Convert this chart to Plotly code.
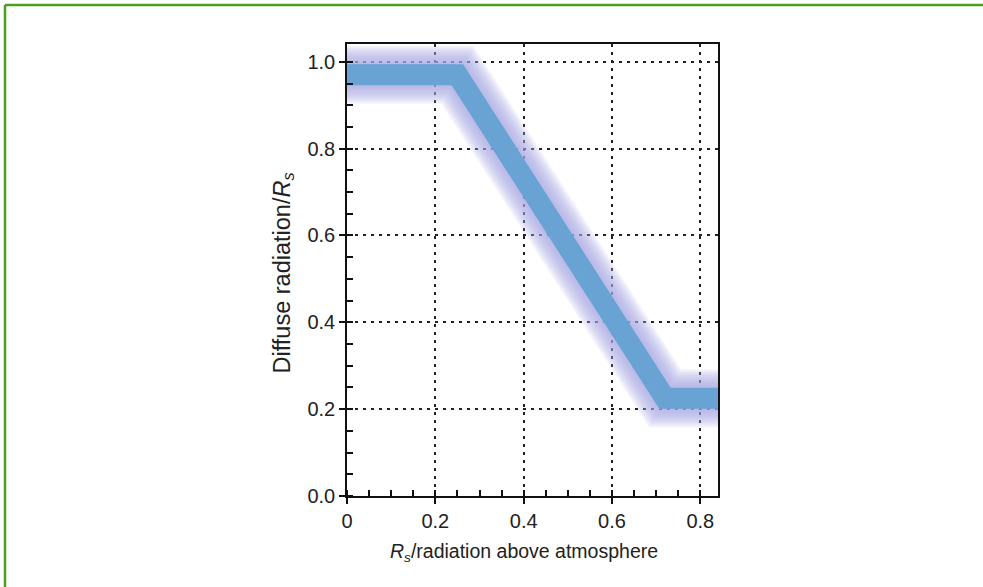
import plotly.graph_objects as go

# Data
ratio_x = [0.0, 0.25, 0.72, 0.86]          # Rs / radiation above atmosphere
diffuse_y = [0.97, 0.97, 0.225, 0.225]     # Diffuse radiation / Rs
x_tick_vals = [0, 0.2, 0.4, 0.6, 0.8]
x_tick_text = ["0", "0.2", "0.4", "0.6", "0.8"]
y_tick_vals = [0.0, 0.2, 0.4, 0.6, 0.8, 1.0]
y_tick_text = ["0.0", "0.2", "0.4", "0.6", "0.8", "1.0"]

W, H = 983, 587
L, R, T, B = 347, 265, 44, 91
pw, ph = W - L - R, H - T - B

FONT = "Liberation Sans, Arial, Helvetica, sans-serif"

fig = go.Figure()

# soft halo around the line (stacked translucent strokes)
for w in [58, 54, 50, 46, 42, 38, 34, 30, 26]:
    fig.add_trace(go.Scatter(x=ratio_x, y=diffuse_y, mode="lines",
                             line=dict(color="rgba(166,166,230,0.15)", width=w),
                             hoverinfo="skip", showlegend=False))
# core line
fig.add_trace(go.Scatter(x=ratio_x, y=diffuse_y, mode="lines",
                         line=dict(color="#68a3d3", width=21),
                         showlegend=False))

axis_common = dict(showline=True, linecolor="#111", linewidth=1.5, mirror=True,
                   ticks="outside", ticklen=6, tickwidth=1.5, tickcolor="#111",
                   showgrid=True, gridcolor="#222", gridwidth=1.5, griddash="3px,5px",
                   zeroline=False,
                   tickfont=dict(family=FONT, size=20, color="#222"),
                   minor=dict(dtick=0.05, ticks="inside", ticklen=6, tickwidth=1.5,
                              tickcolor="#111", showgrid=False))

fig.update_xaxes(range=[0, 0.84], tickvals=x_tick_vals, ticktext=x_tick_text,
                 **axis_common)
fig.update_yaxes(range=[0, 1.041], tickvals=y_tick_vals, ticktext=y_tick_text,
                 **axis_common)

# overlay axes to give major ticks their inside half
fig.update_layout(
    xaxis2=dict(overlaying="x", range=[0, 0.84], tickvals=x_tick_vals,
                ticks="inside", ticklen=6, tickwidth=1.5, tickcolor="#111",
                showticklabels=False, showgrid=False, zeroline=False, side="bottom"),
    yaxis2=dict(overlaying="y", range=[0, 1.041], tickvals=y_tick_vals,
                ticks="inside", ticklen=6, tickwidth=1.5, tickcolor="#111",
                showticklabels=False, showgrid=False, zeroline=False, side="left"),
)
fig.add_trace(go.Scatter(x=[None], y=[None], xaxis="x2", yaxis="y2",
                         showlegend=False, hoverinfo="skip"))

# axis titles
fig.add_annotation(xref="paper", yref="paper",
                   x=(523.5 - L) / pw, y=(H - B - 552) / ph,
                   xanchor="center", yanchor="middle", showarrow=False,
                   text="<i>R<sub>s</sub></i>/radiation above atmosphere",
                   font=dict(family=FONT, size=19.5, color="#222"))
fig.add_annotation(xref="paper", yref="paper",
                   x=(283 - L) / pw, y=(H - B - 273.5) / ph,
                   xanchor="center", yanchor="middle", showarrow=False,
                   textangle=-90,
                   text="Diffuse radiation/<i>R<sub>s</sub></i>",
                   font=dict(family=FONT, size=23.5, color="#222"))

# green frame (top and left edges)
gx = (5 - L) / pw
gy = (H - B - 5) / ph
fig.add_shape(type="line", xref="paper", yref="paper",
              x0=gx, y0=gy, x1=(W + 5 - L) / pw, y1=gy,
              line=dict(color="#46a318", width=2.5))
fig.add_shape(type="line", xref="paper", yref="paper",
              x0=gx, y0=gy, x1=gx, y1=(-B - 5) / ph,
              line=dict(color="#46a318", width=2.5))

fig.update_layout(width=W, height=H, margin=dict(l=L, r=R, t=T, b=B),
                  plot_bgcolor="white", paper_bgcolor="white",
                  showlegend=False)

fig.write_html("out.html", config={"displayModeBar": False},
               post_script="document.body.style.margin='0';document.body.style.padding='0';")
